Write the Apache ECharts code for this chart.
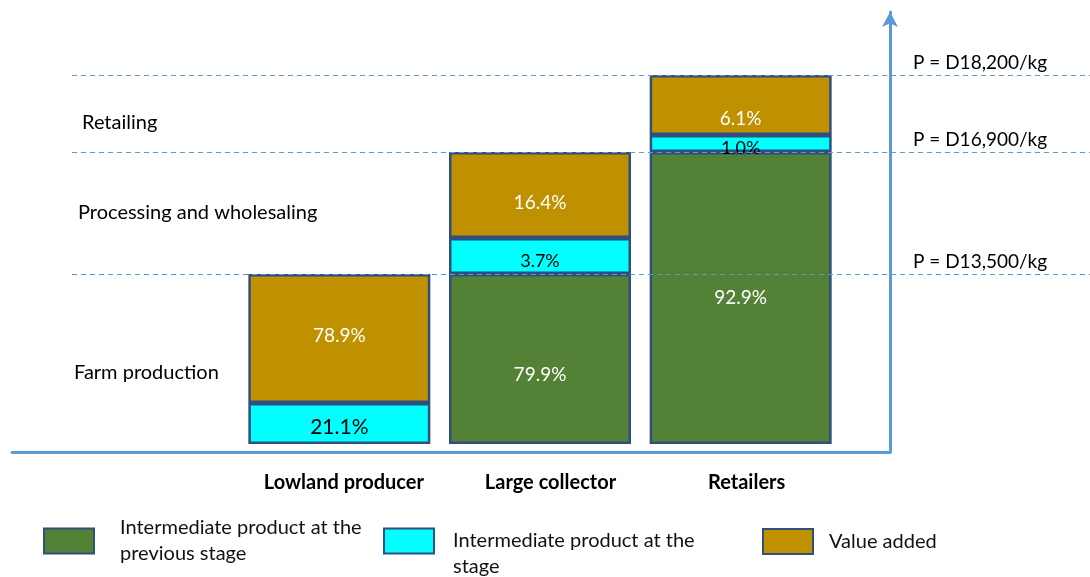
<!DOCTYPE html>
<html><head><meta charset="utf-8">
<script src="https://cdn.jsdelivr.net/npm/echarts@6/dist/echarts.min.js"></script>
<style>html,body{margin:0;padding:0;background:#fff}#c{width:1090px;height:577px}</style>
</head><body><div id="c"></div>
<script>
// Stage actors (x categories)
const categories = ['Lowland producer', 'Large collector', 'Retailers'];
// Segment heights as drawn (schematic vertical units)
const prevStage = [null, 170, 292];   // Intermediate product at the previous stage
const atStage   = [41, 36, 17];       // Intermediate product at the stage
const valueAdded = [129, 86, 60];     // Value added
// Segment labels (shares)
const prevLabels = ['', '79.9%', '92.9%'];
const stageLabels = ['21.1%', '3.7%', '1.0%'];
const addedLabels = ['78.9%', '16.4%', '6.1%'];
// Price levels at the top of each stage
const priceLabels = ['P = D13,500/kg', 'P = D16,900/kg', 'P = D18,200/kg'];
const stageNames = ['Farm production', 'Processing and wholesaling', 'Retailing'];
const seriesNames = ['Intermediate product at the\nprevious stage', 'Intermediate product at the\nstage', 'Value added'];

const totals = categories.map((c, i) => (prevStage[i] || 0) + atStage[i] + valueAdded[i]);

const FONT = 'Lato';
const BORDER = '#2F4F7F';
const AXIS = '#5B9BD5';
const colors = ['#538135', '#00FFFF', '#BF9000'];
const nudgePrev = [0, 16, 0], nudgeStage = [4, 5, 5], nudgeAdded = [-3, 8, 14];
const catPad = [9, 21, 12];

function mk(vals, labels, nudge, textColor, fs) {
  return vals.map((v, i) => ({
    value: v,
    label: { show: !!labels[i], formatter: labels[i], offset: [0, nudge[i]], color: textColor, fontSize: fs, fontFamily: FONT }
  }));
}

const chart = echarts.init(document.getElementById('c'));
const common = { type: 'bar', stack: 'total', barWidth: 182, xAxisIndex: 0, yAxisIndex: 0, z: 2,
  label: { show: true, position: 'inside' } };
function legendOf(name, left, top, padLeft, lead) {
  return { data: [name], left: left, top: top, padding: 0, itemWidth: 50, itemHeight: 25, icon: 'rect', selectedMode: false,
    formatter: n => (lead ? '\n' : '') + n,
    textStyle: { fontFamily: FONT, fontSize: 20, color: '#111', lineHeight: 26, padding: [0, 0, 0, padLeft] } };
}

chart.setOption({
  animation: false,
  grid: [
    { left: 239, right: 249, top: 44, bottom: 133 },
    { left: 72, right: 0, top: 44, bottom: 133 },
    { left: 12, right: 200, top: 12, bottom: 125 }
  ],
  xAxis: [
    { gridIndex: 0, type: 'category',
      data: categories.map((c, i) => ({ value: c, textStyle: { padding: [0, 0, 0, catPad[i]] } })),
      axisLine: { show: false }, axisTick: { show: false },
      axisLabel: { interval: 0, hideOverlap: false, margin: 29, fontFamily: FONT, fontWeight: 'bold', fontSize: 20, color: '#000' } },
    { gridIndex: 1, type: 'value', min: 0, max: 1, show: false },
    { gridIndex: 2, type: 'value', min: 0, max: 1, axisLine: { show: true, onZero: false, lineStyle: { color: AXIS, width: 3 } },
      axisTick: { show: false }, axisLabel: { show: false }, splitLine: { show: false } }
  ],
  yAxis: [
    { gridIndex: 0, type: 'value', min: 0, max: 400, show: false },
    { gridIndex: 1, type: 'value', min: 0, max: 400, show: false },
    { gridIndex: 2, type: 'value', min: 0, max: 1, position: 'right',
      axisLine: { show: true, onZero: false, symbol: ['none', 'arrow'], symbolSize: [12, 15], lineStyle: { color: AXIS, width: 3 } },
      axisTick: { show: false }, axisLabel: { show: false }, splitLine: { show: false } }
  ],
  legend: [
    legendOf(seriesNames[0], 43, 515, 21, false),
    legendOf(seriesNames[1], 383, 502, 14, true),
    legendOf(seriesNames[2], 762, 528, 11, false)
  ],
  series: [
    Object.assign({}, common, { name: seriesNames[0], itemStyle: { color: colors[0], borderColor: BORDER, borderWidth: 2.5 },
      data: mk(prevStage, prevLabels, nudgePrev, '#fff', 19) }),
    Object.assign({}, common, { name: seriesNames[1], itemStyle: { color: colors[1], borderColor: BORDER, borderWidth: 2.5 },
      data: mk(atStage, stageLabels, nudgeStage, '#000', 18).map((d, i) => { if (i === 0) d.label.fontSize = 21; return d; }) }),
    Object.assign({}, common, { name: seriesNames[2], itemStyle: { color: colors[2], borderColor: BORDER, borderWidth: 2.5 },
      data: mk(valueAdded, addedLabels, nudgeAdded, '#fff', 19) }),
    { type: 'line', xAxisIndex: 1, yAxisIndex: 1, data: [], z: 5,
      markLine: { silent: true, symbol: 'none', label: { show: false },
        lineStyle: { color: AXIS, type: [5, 4], width: 1.2 },
        data: totals.map(t => ({ yAxis: t })) } }
  ]
});

const g = [];
totals.forEach((t, i) => {
  const y = chart.convertToPixel({ yAxisIndex: 0 }, t);
  g.push({ type: 'text', left: 913, top: y - 22, style: { text: priceLabels[i], font: '19px ' + FONT, fill: '#000' } });
});
const stageY = [373, 213, 123], stageX = [74, 78, 82];
stageNames.forEach((s, i) => {
  g.push({ type: 'text', x: stageX[i], y: stageY[i], style: { text: s, font: '20px ' + FONT, fill: '#000', verticalAlign: 'middle' } });
});
chart.setOption({ graphic: g });
</script></body></html>
